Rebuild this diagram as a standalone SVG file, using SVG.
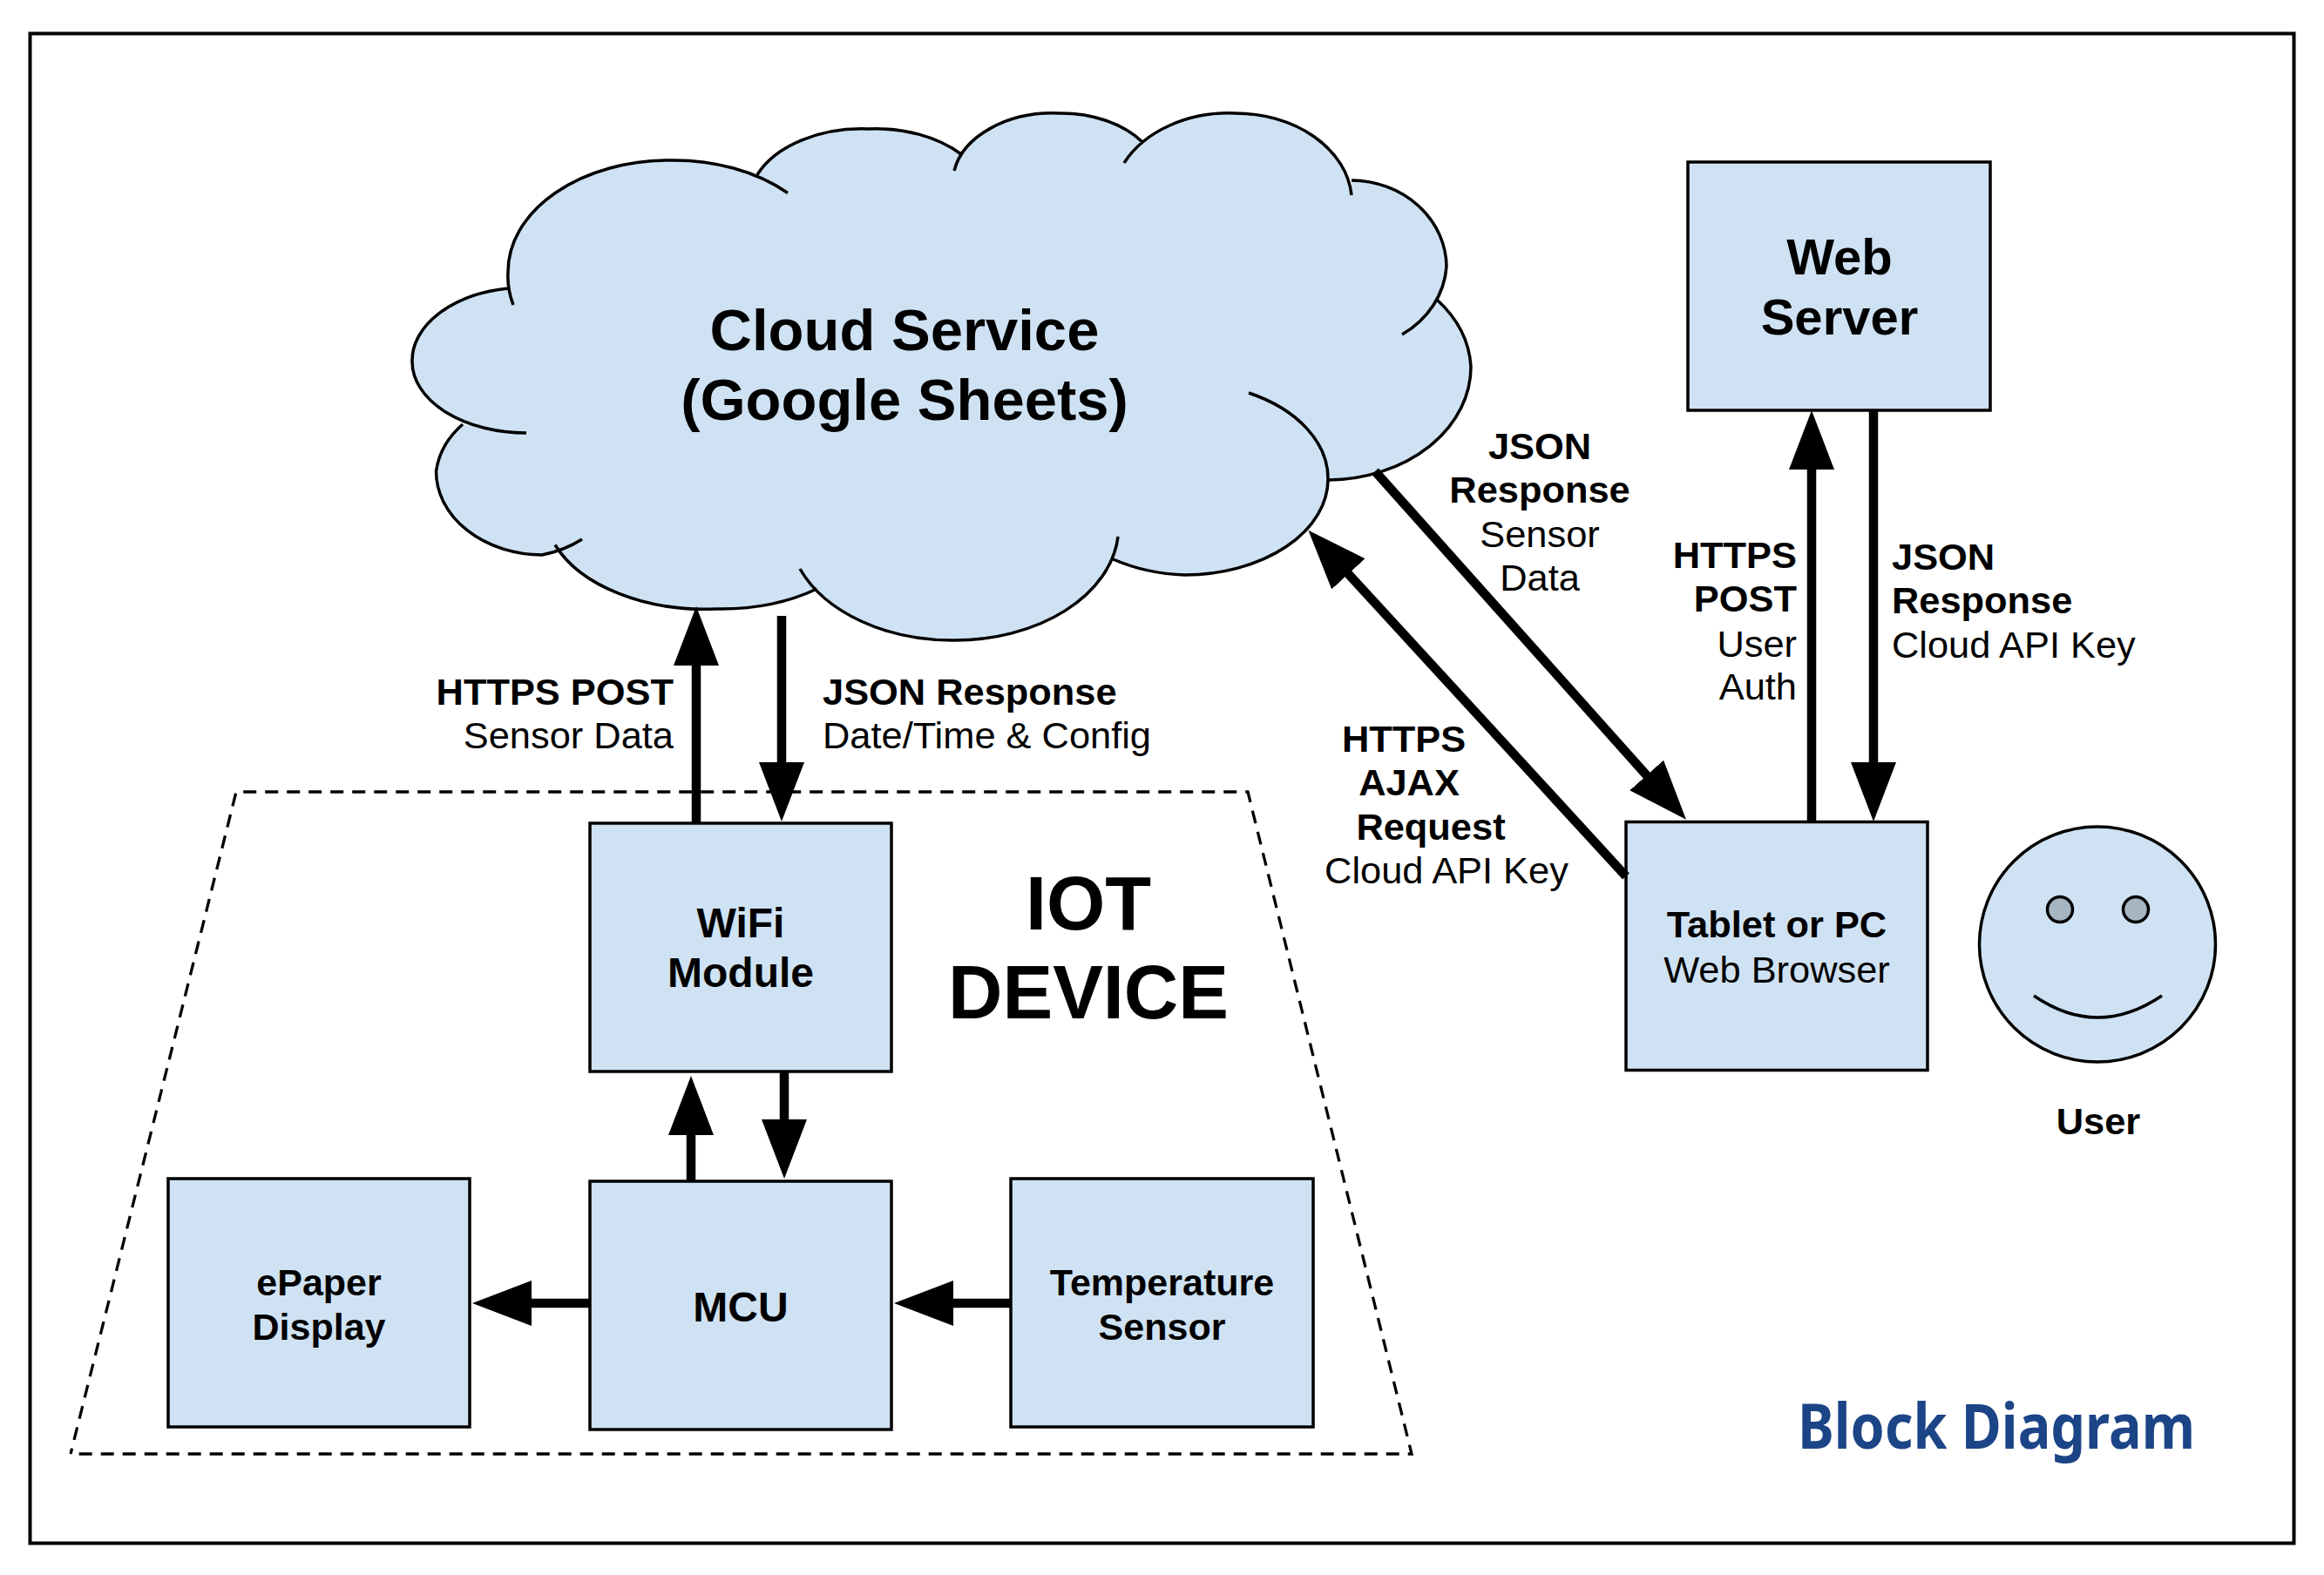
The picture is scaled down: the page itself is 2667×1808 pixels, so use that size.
<svg xmlns="http://www.w3.org/2000/svg" width="2667" height="1808" viewBox="0 0 2667 1808">
<style>
text{font-family:"Liberation Sans",Arial,sans-serif;fill:#000}
.b{font-weight:700}
.m{text-anchor:middle}
.e{text-anchor:end}
.l{font-size:43.400px}
.box{fill:#cfe2f3;stroke:#000;stroke-width:3.500}
.arr{stroke:#000;stroke-width:10.500;fill:none;marker-end:url(#head)}
</style>
<defs>
<marker id="head" markerUnits="userSpaceOnUse" viewBox="0 0 68 52" refX="8" refY="26" markerWidth="68" markerHeight="52" orient="auto"><path d="M0,0L68,26L0,52Z" fill="#000"/></marker>
</defs>
<rect width="2667" height="1808" fill="#fff"/>
<rect id="frame" x="34.500" y="38.500" width="2598" height="1733" fill="none" stroke="#000" stroke-width="4"/>
<path id="iot-boundary" d="M90.700,1669H1620L1432,909H271L81,1669" fill="none" stroke="#000" stroke-width="3.300" stroke-dasharray="15 10"/>
<g id="cloud">
<path fill="#cfe2f3" d="M589,350A185,128 0 0 1 583,312A185,128 0 0 1 768,184A185,128 0 0 1 904,221.500L869,200.500A130,85 0 0 1 997,148A130,85 0 0 1 1103,177L1095,196A115,80 0 0 1 1215,130A115,80 0 0 1 1311,163L1290,187A134,102 0 0 1 1417,130A134,102 0 0 1 1551,224L1551,207A110,100 0 0 1 1660,306A110,100 0 0 1 1609,384L1649,344A165,128 0 0 1 1688,421A165,130 0 0 1 1525,551L1433,451A165,110 0 0 1 1524,550A165,110 0 0 1 1360,660A165,110 0 0 1 1277.500,642L1283,616A188,130 0 0 1 1095,735A188,130 0 0 1 918,653L937.500,676A184,115 0 0 1 821,699A184,115 0 0 1 637,625.500L668,619A120,96 0 0 1 622,637A122,96 0 0 1 500.500,541A122,96 0 0 1 531,487L604,497A131,82 0 0 1 473,415A131,84 0 0 1 583,331Z"/>
<path fill="none" stroke="#000" stroke-width="3.500" d="M589,350A185,128 0 0 1 583,312A185,128 0 0 1 768,184A185,128 0 0 1 904,221.500M869,200.500A130,85 0 0 1 997,148A130,85 0 0 1 1103,177M1095,196A115,80 0 0 1 1215,130A115,80 0 0 1 1311,163M1290,187A134,102 0 0 1 1417,130A134,102 0 0 1 1551,224M1551,207A110,100 0 0 1 1660,306A110,100 0 0 1 1609,384M1649,344A165,128 0 0 1 1688,421A165,130 0 0 1 1525,551M1433,451A165,110 0 0 1 1524,550A165,110 0 0 1 1360,660A165,110 0 0 1 1277.500,642M1283,616A188,130 0 0 1 1095,735A188,130 0 0 1 918,653M937.500,676A184,115 0 0 1 821,699A184,115 0 0 1 637,625.500M668,619A120,96 0 0 1 622,637A122,96 0 0 1 500.500,541A122,96 0 0 1 531,487M604,497A131,82 0 0 1 473,415A131,84 0 0 1 583,331"/>
<text class="b m" font-size="67" x="1038" y="401.500">Cloud Service</text>
<text class="b m" font-size="67" x="1038" y="481.500">(Google Sheets)</text>
</g>
<g id="web-server"><rect class="box" x="1937" y="186" width="347" height="285"/>
<text class="b m" font-size="58" x="2111" y="314.500">Web</text><text class="b m" font-size="58" x="2111" y="383.500">Server</text></g>
<g id="wifi-module"><rect class="box" x="677" y="945" width="346" height="285"/>
<text class="b m" font-size="48" x="850" y="1076">WiFi</text><text class="b m" font-size="48" x="850" y="1132.500">Module</text></g>
<g id="mcu"><rect class="box" x="677" y="1356" width="346" height="285"/>
<text class="b m" font-size="48" x="850" y="1517">MCU</text></g>
<g id="epaper"><rect class="box" x="193" y="1353" width="346" height="285"/>
<text class="b m" font-size="43" x="366" y="1487">ePaper</text><text class="b m" font-size="43" x="366" y="1538">Display</text></g>
<g id="temperature-sensor"><rect class="box" x="1160" y="1353" width="347" height="285"/>
<text class="b m" font-size="43" x="1333.500" y="1487">Temperature</text><text class="b m" font-size="43" x="1333.500" y="1538">Sensor</text></g>
<g id="tablet"><rect class="box" x="1866" y="943.500" width="346" height="285"/>
<text class="b m l" x="2039" y="1076">Tablet or PC</text><text class="m l" x="2039" y="1128">Web Browser</text></g>
<g id="user">
<ellipse cx="2407" cy="1084" rx="135.500" ry="135" fill="#cfe2f3" stroke="#000" stroke-width="3.500"/>
<circle cx="2364" cy="1044" r="14.500" fill="#a6b5c2" stroke="#000" stroke-width="3.500"/>
<circle cx="2451" cy="1044" r="14.500" fill="#a6b5c2" stroke="#000" stroke-width="3.500"/>
<path d="M2334,1143Q2407,1193 2481,1143" fill="none" stroke="#000" stroke-width="3.500"/>
<text class="b m l" x="2408" y="1302">User</text></g>
<g id="iot-title"><text class="b m" font-size="86.500" x="1249" y="1066.500">IOT</text><text class="b m" font-size="86.500" x="1249" y="1169">DEVICE</text></g>
<g id="connectors">
<path class="arr" d="M799,945V756"/>
<path class="arr" d="M897,707V883"/>
<path class="arr" d="M793,1356V1295"/>
<path class="arr" d="M900,1230V1293"/>
<path class="arr" d="M677,1496H602"/>
<path class="arr" d="M1160,1496H1086"/>
<path class="arr" d="M1578,541L1895,896"/>
<path class="arr" d="M1866,1006L1542,653"/>
<path class="arr" d="M2079,943V531"/>
<path class="arr" d="M2150,471V883"/>
</g>
<g id="labels">
<text class="b e l" x="773" y="808.500">HTTPS POST</text><text class="e l" x="773" y="858.500">Sensor Data</text>
<text class="b l" x="944" y="808.500">JSON Response</text><text class="l" x="944" y="858.500">Date/Time &amp; Config</text>
<text class="b m l" x="1767" y="527">JSON</text><text class="b m l" x="1767" y="576.500">Response</text><text class="m l" x="1767" y="628">Sensor</text><text class="m l" x="1767" y="677.500">Data</text>
<text class="b m l" x="1611" y="862.500">HTTPS</text><text class="b m l" x="1617" y="912.500">AJAX</text><text class="b m l" x="1642" y="963.500">Request</text><text class="m l" x="1660" y="1014">Cloud API Key</text>
<text class="b e l" x="2062" y="651.500">HTTPS</text><text class="b e l" x="2062" y="701.500">POST</text><text class="e l" x="2062" y="754">User</text><text class="e l" x="2062" y="802.500">Auth</text>
<text class="b l" x="2171" y="653.500">JSON</text><text class="b l" x="2171" y="703.500">Response</text><text class="l" x="2171" y="754.500">Cloud API Key</text>
</g>
<text id="title" x="2063" y="1663" font-size="71" font-weight="700" style="font-family:'Noto Sans',sans-serif;fill:#1c4587" textLength="456" lengthAdjust="spacingAndGlyphs">Block Diagram</text>
</svg>
